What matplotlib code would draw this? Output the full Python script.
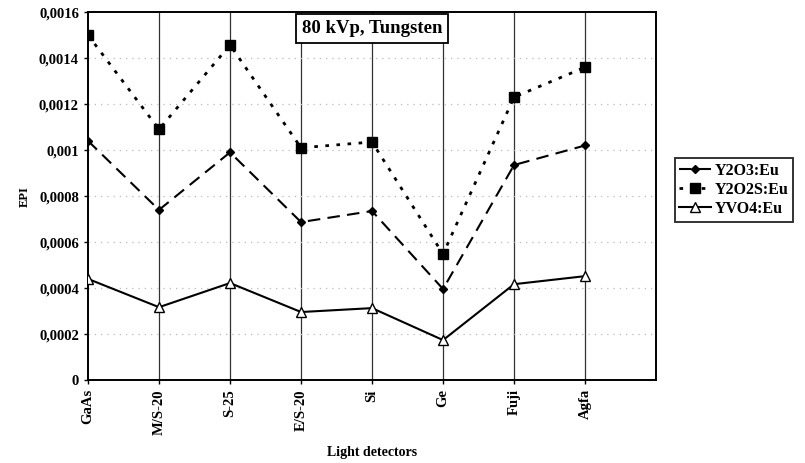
import matplotlib.pyplot as plt
from matplotlib.ticker import FuncFormatter

# data
detectors = ["GaAs", "M/S-20", "S-25", "E/S-20", "Si", "Ge", "Fuji", "Agfa"]
y2o3_eu = [0.00104, 0.00074, 0.00099, 0.000687, 0.000735, 0.000396, 0.000935, 0.00102]
y2o2s_eu = [0.0015, 0.00109, 0.001457, 0.00101, 0.001035, 0.000548, 0.00123, 0.00136]
yvo4_eu = [0.00044, 0.000317, 0.000422, 0.000296, 0.000313, 0.000174, 0.000417, 0.000452]

plt.rcParams["font.family"] = ["Liberation Serif", "DejaVu Serif"]
plt.rcParams["font.weight"] = "bold"

fig = plt.figure(figsize=(8.05, 4.63), dpi=100)
ax = fig.add_axes([0.1093, 0.179, 0.7057, 0.795])

x = list(range(len(detectors)))
ax.plot(x, y2o3_eu, color="black", linestyle=(0, (6, 3.5)), linewidth=1.5,
        marker="D", markersize=4.5, markerfacecolor="black", label="Y2O3:Eu", zorder=3)
ax.plot(x, y2o2s_eu, color="black", linestyle=(0, (1.3, 2.7)), linewidth=2.0,
        marker="s", markersize=6.5, markerfacecolor="black", label="Y2O2S:Eu", zorder=3)
ax.plot(x, yvo4_eu, color="black", linestyle="-", linewidth=1.5,
        marker="^", markersize=6.5, markerfacecolor="white", label="YVO4:Eu", zorder=3)

ax.set_xlim(0, len(detectors))
ax.set_ylim(0, 0.0016)
ax.set_xticks(x)
ax.set_xticklabels(detectors, rotation=90, fontsize=10.5, fontweight="bold")
ax.set_yticks([i * 0.0002 for i in range(9)])
ax.yaxis.set_major_formatter(FuncFormatter(lambda v, p: ("%g" % round(v, 6)).replace(".", ",")))
for lab in ax.get_yticklabels():
    lab.set_fontsize(10.5)
    lab.set_fontweight("bold")

# grid: solid verticals, faint dotted horizontals
for xi in x[1:]:
    ax.axvline(xi, color="#333333", linewidth=0.9, zorder=1)
for yi in [i * 0.0002 for i in range(1, 8)]:
    ax.axhline(yi, color="#bbbbbb", linewidth=0.9, linestyle=(0, (1, 4)), zorder=1)

for s in ax.spines.values():
    s.set_linewidth(1.4)
ax.tick_params(direction="out", length=3, width=1)

ax.set_ylabel("EPI", fontsize=9, fontweight="bold", labelpad=6)
ax.set_xlabel("Light detectors", fontsize=10, fontweight="bold", va="center")
ax.xaxis.set_label_coords(0.5, -0.196)

ax.text(0.5, 0.955, "80 kVp, Tungsten", transform=ax.transAxes, ha="center", va="center",
        fontsize=13.5, fontweight="bold",
        bbox=dict(boxstyle="square,pad=0.3", facecolor="white", edgecolor="black", linewidth=1.3))

leg = fig.legend(loc="center left", bbox_to_anchor=(0.838, 0.59), frameon=True, fancybox=False,
                 edgecolor="black", fontsize=11.5, handlelength=2.0, handletextpad=0.2,
                 borderpad=0.3, labelspacing=0.2, borderaxespad=0)
leg.get_frame().set_linewidth(1.4)

fig.savefig("out.png", dpi=100)
